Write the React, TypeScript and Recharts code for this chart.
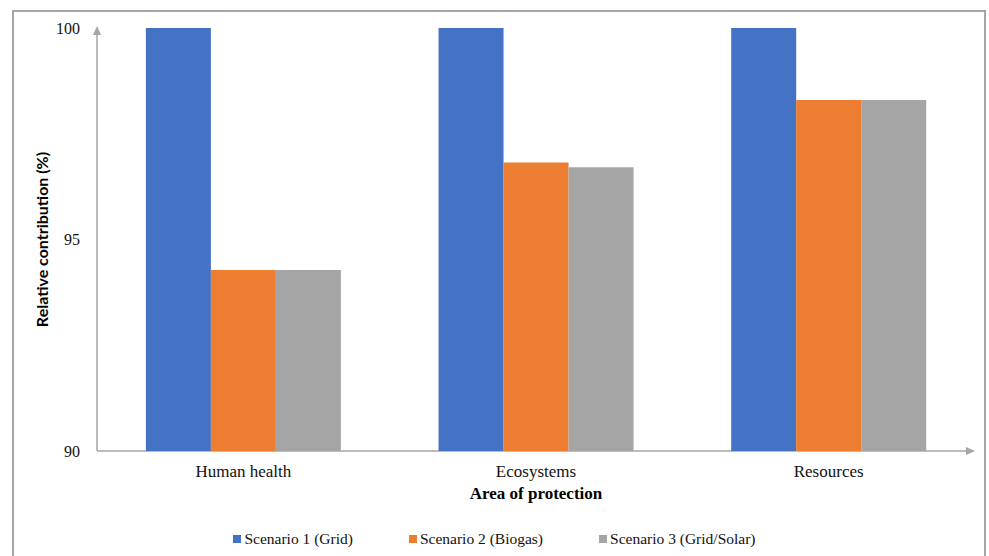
import React from "react";
import { Bar, BarChart, Label, Legend, XAxis, YAxis, usePlotArea } from "recharts";

const areas = ["Human health", "Ecosystems", "Resources"];
const grid = [100, 100, 100];
const biogas = [94.28, 96.82, 98.3];
const gridSolar = [94.28, 96.71, 98.3];
const yTicks = [90, 95, 100];

const series = [
  { key: "grid", name: "Scenario 1 (Grid)", color: "#4472C4" },
  { key: "biogas", name: "Scenario 2 (Biogas)", color: "#ED7D31" },
  { key: "gridSolar", name: "Scenario 3 (Grid/Solar)", color: "#A5A5A5" },
];

const data = areas.map((area, i) => ({
  area,
  grid: grid[i],
  biogas: biogas[i],
  gridSolar: gridSolar[i],
}));

const SERIF = '"Liberation Serif", "Times New Roman", serif';
const SANS = 'Lato, "Open Sans", sans-serif';
const AXIS = "#a6a6a6";

// axis lines with arrow heads, drawn from the plot area
function ArrowAxes() {
  const area = usePlotArea();
  if (!area) return null;
  const { x, y, width, height } = area;
  const bottom = y + height;
  const right = x + width;
  return (
    <g>
      <line x1={x} y1={bottom} x2={x} y2={y + 6} stroke={AXIS} strokeWidth={1.5} />
      <polygon points={`${x - 4},${y + 7} ${x + 4},${y + 7} ${x},${y - 2}`} fill={AXIS} />
      <line x1={x} y1={bottom} x2={right - 8} y2={bottom} stroke={AXIS} strokeWidth={1.5} />
      <polygon points={`${right - 9},${bottom - 4} ${right - 9},${bottom + 4} ${right},${bottom}`} fill={AXIS} />
    </g>
  );
}

function LegendRow() {
  return (
    <div style={{ display: "flex", justifyContent: "center", gap: 56, fontFamily: SERIF, fontSize: 15.5, color: "#111" }}>
      {series.map((s) => (
        <div key={s.key} style={{ display: "flex", alignItems: "center" }}>
          <span style={{ width: 8, height: 8, background: s.color, marginRight: 3, display: "inline-block" }} />
          <span>{s.name}</span>
        </div>
      ))}
    </div>
  );
}

export default function App() {
  return (
    <div style={{ position: "absolute", left: 0, top: 0, width: 989, height: 556, background: "#fff", overflow: "hidden" }}>
      <div
        style={{
          position: "absolute",
          left: 12,
          top: 10,
          width: 974,
          height: 580,
          border: "2px solid #a6a6a6",
          boxSizing: "border-box",
        }}
      />
      <BarChart
        width={989}
        height={556}
        data={data}
        margin={{ top: 28, right: 14, left: 0, bottom: 45 }}
        barCategoryGap="16.7%"
        barGap={0}
        style={{ position: "absolute", left: 0, top: 0 }}
      >
        <XAxis
          dataKey="area"
          axisLine={false}
          tickLine={false}
          tickSize={0}
          tickMargin={14}
          height={60}
          tick={{ fill: "#111", fontSize: 17, fontFamily: SERIF }}
        >
          <Label
            value="Area of protection"
            position="center"
            dy={12}
            style={{ fill: "#000", fontSize: 17, fontWeight: 700, fontFamily: SERIF }}
          />
        </XAxis>
        <YAxis
          domain={[90, 100]}
          ticks={yTicks}
          width={97}
          axisLine={false}
          tickLine={false}
          tickSize={0}
          tickMargin={17}
          tick={{ fill: "#111", fontSize: 16, fontFamily: SERIF }}
        >
          <Label
            value="Relative contribution (%)"
            angle={-90}
            position="center"
            dx={-6}
            style={{ fill: "#000", fontSize: 16, fontWeight: 700, fontFamily: SANS, textAnchor: "middle" }}
          />
        </YAxis>
        <Legend
          layout="horizontal"
          verticalAlign="middle"
          align="center"
          wrapperStyle={{ top: 530, left: 0, width: 989 }}
          content={() => <LegendRow />}
        />
        {series.map((s) => (
          <Bar key={s.key} dataKey={s.key} name={s.name} fill={s.color} isAnimationActive={false} />
        ))}
        <ArrowAxes />
      </BarChart>
    </div>
  );
}
